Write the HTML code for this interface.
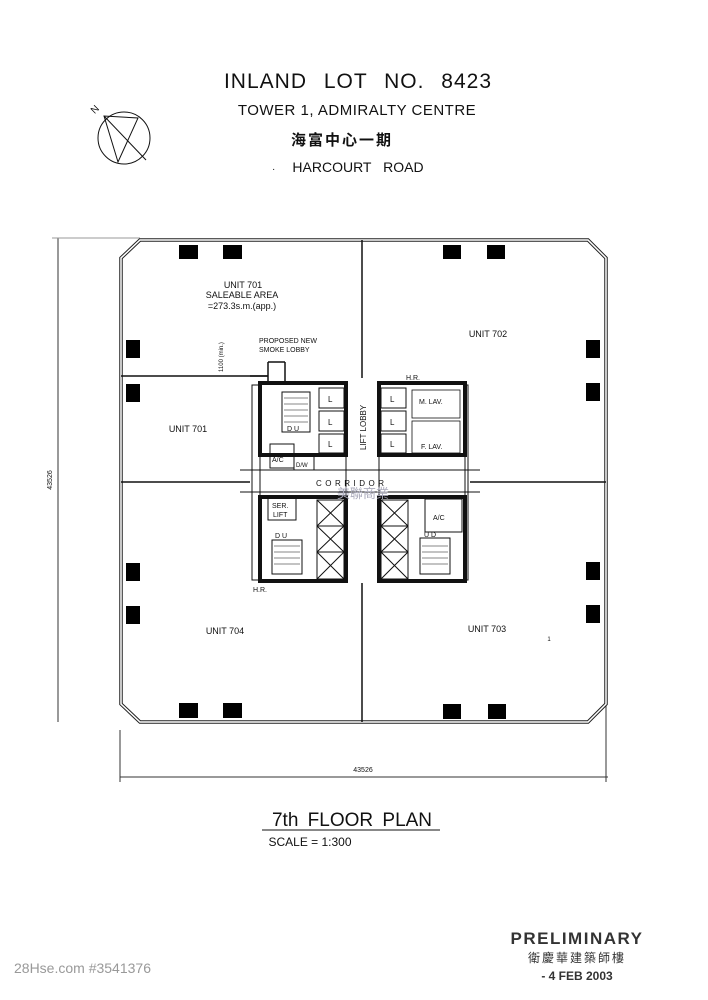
<!DOCTYPE html>
<html><head><meta charset="utf-8"><style>
html,body{margin:0;padding:0;background:#fff;}
svg{display:block}
text{font-family:"Liberation Sans","Noto Sans CJK TC",sans-serif;fill:#111}
</style></head><body>
<svg width="708" height="1000" viewBox="0 0 708 1000" xmlns="http://www.w3.org/2000/svg">
<text x="358" y="88" font-size="21" text-anchor="middle" letter-spacing="1" word-spacing="10">INLAND LOT NO. 8423</text>
<text x="357" y="115" font-size="15" text-anchor="middle" letter-spacing="0.5">TOWER 1, ADMIRALTY CENTRE</text>
<text x="342" y="145" font-size="15" font-weight="bold" text-anchor="middle" letter-spacing="2">海富中心一期</text>
<text x="358" y="172" font-size="14" text-anchor="middle" word-spacing="8">HARCOURT ROAD</text>
<text x="272" y="172" font-size="10">·</text>
<g stroke="#111" fill="none" stroke-width="1">
<circle cx="124" cy="138" r="26"/>
<line x1="104" y1="116" x2="146" y2="160"/>
<polygon points="104,116 118,162 138,118" />
</g>
<text x="92" y="112" font-size="10" transform="rotate(-45 96 110)">N</text>
<g stroke="#333" stroke-width="1">
<line x1="58" y1="238" x2="58" y2="722"/>
<line x1="52" y1="238" x2="140" y2="238" stroke="#999"/>
<line x1="120" y1="777" x2="608" y2="777"/>
<line x1="120" y1="730" x2="120" y2="782"/>
<line x1="606" y1="706" x2="606" y2="782"/>
</g>
<text x="52" y="480" font-size="7" transform="rotate(-90 52 480)" text-anchor="middle">43526</text>
<text x="363" y="772" font-size="7" text-anchor="middle">43526</text>
<g fill="none" stroke="#222">
<polygon points="140,240 588,240 606,258 606,704 588,722 140,722 121,704 121,258" stroke-width="3.5"/>
<polygon points="140,240 588,240 606,258 606,704 588,722 140,722 121,704 121,258" stroke-width="1.5" stroke="#fff"/>
</g>
<g stroke="#111" stroke-width="1.5">
<line x1="362" y1="240" x2="362" y2="378"/>
<line x1="362" y1="583" x2="362" y2="722"/>
<line x1="121" y1="482" x2="250" y2="482"/>
<line x1="470" y1="482" x2="606" y2="482"/>
<line x1="121" y1="376" x2="268" y2="376"/>
<line x1="268" y1="362" x2="268" y2="383"/>
<line x1="268" y1="362" x2="285" y2="362"/>
<line x1="285" y1="362" x2="285" y2="385"/>
</g>
<g fill="#000">
<rect x="179" y="245" width="19" height="14"/><rect x="223" y="245" width="19" height="14"/>
<rect x="443" y="245" width="18" height="14"/><rect x="487" y="245" width="18" height="14"/>
<rect x="126" y="340" width="14" height="18"/><rect x="126" y="384" width="14" height="18"/>
<rect x="126" y="563" width="14" height="18"/><rect x="126" y="606" width="14" height="18"/>
<rect x="586" y="340" width="14" height="18"/><rect x="586" y="383" width="14" height="18"/>
<rect x="586" y="562" width="14" height="18"/><rect x="586" y="605" width="14" height="18"/>
<rect x="179" y="703" width="19" height="15"/><rect x="223" y="703" width="19" height="15"/>
<rect x="443" y="704" width="18" height="15"/><rect x="488" y="704" width="18" height="15"/>
</g>
<g fill="none" stroke="#111">
<rect x="260" y="383" width="86" height="72" stroke-width="4"/>
<rect x="379" y="383" width="86" height="72" stroke-width="4"/>
<rect x="260" y="497" width="86" height="84" stroke-width="4"/>
<rect x="379" y="497" width="86" height="84" stroke-width="4"/>
<rect x="252" y="385" width="8" height="195" stroke-width="1"/>
<rect x="465" y="385" width="3" height="195" stroke-width="1"/>
<line x1="240" y1="470" x2="480" y2="470" stroke-width="1"/>
<line x1="240" y1="492" x2="480" y2="492" stroke-width="1"/>
<line x1="346" y1="383" x2="346" y2="581" stroke-width="1"/>
<line x1="379" y1="383" x2="379" y2="581" stroke-width="1"/>
<rect x="319" y="388" width="25" height="20"/><rect x="319" y="411" width="25" height="20"/><rect x="319" y="434" width="25" height="19"/>
<rect x="381" y="388" width="25" height="20"/><rect x="381" y="411" width="25" height="20"/><rect x="381" y="434" width="25" height="19"/>
<rect x="317" y="500" width="27" height="26"/><rect x="317" y="526" width="27" height="26"/><rect x="317" y="552" width="27" height="27"/>
<rect x="381" y="500" width="27" height="26"/><rect x="381" y="526" width="27" height="26"/><rect x="381" y="552" width="27" height="27"/>
<path d="M317 500 L344 526 M344 500 L317 526 M317 526 L344 552 M344 526 L317 552 M317 552 L344 579 M344 552 L317 579"/>
<path d="M381 500 L408 526 M408 500 L381 526 M381 526 L408 552 M408 526 L381 552 M381 552 L408 579 M408 552 L381 579"/>
<rect x="282" y="392" width="28" height="40"/>
<rect x="272" y="540" width="30" height="34"/>
<rect x="420" y="538" width="30" height="36"/>
<path d="M284 398 H308 M284 404 H308 M284 410 H308 M284 416 H308 M284 422 H308 M274 546 H300 M274 552 H300 M274 558 H300 M274 564 H300 M422 546 H448 M422 552 H448 M422 558 H448 M422 564 H448" stroke-width="0.6"/>
<rect x="270" y="444" width="24" height="24"/>
<rect x="294" y="456" width="20" height="14"/>
<rect x="268" y="498" width="28" height="22"/>
<rect x="425" y="499" width="37" height="33"/>
<rect x="412" y="390" width="48" height="28" stroke-width="0.8"/>
<rect x="412" y="421" width="48" height="32" stroke-width="0.8"/>
<path d="M250 376 H268" stroke-width="1.5"/>
</g>
<g font-size="8">
<text x="328" y="402">L</text><text x="328" y="425">L</text><text x="328" y="447">L</text>
<text x="390" y="402">L</text><text x="390" y="425">L</text><text x="390" y="447">L</text>
<text x="366" y="450" transform="rotate(-90 366 450)" font-size="8">LIFT LOBBY</text>
<text x="316" y="486" font-size="8" letter-spacing="3.5">CORRIDOR</text>
<text x="419" y="404" font-size="7">M. LAV.</text>
<text x="421" y="449" font-size="7">F. LAV.</text>
<text x="406" y="380" font-size="7">H.R.</text>
<text x="253" y="592" font-size="7">H.R.</text>
<text x="272" y="462" font-size="7">A/C</text>
<text x="296" y="467" font-size="6">D/W</text>
<text x="272" y="508" font-size="7">SER.</text>
<text x="273" y="517" font-size="7">LIFT</text>
<text x="433" y="520" font-size="7">A/C</text>
<text x="287" y="431" font-size="7">D  U</text>
<text x="275" y="538" font-size="7">D  U</text>
<text x="424" y="537" font-size="7">U  D</text>
<text x="259" y="343" font-size="7">PROPOSED NEW</text>
<text x="259" y="352" font-size="7">SMOKE LOBBY</text>
<text x="223" y="372" font-size="6" transform="rotate(-90 223 372)">1100 (min.)</text>
</g>
<g font-size="9" text-anchor="middle">
<text x="243" y="288">UNIT 701</text>
<text x="242" y="298">SALEABLE AREA</text>
<text x="242" y="309">=273.3s.m.(app.)</text>
<text x="488" y="337">UNIT 702</text>
<text x="188" y="432">UNIT 701</text>
<text x="225" y="634">UNIT 704</text>
<text x="487" y="632">UNIT 703</text>
<text x="549" y="641" font-size="6">1</text>
</g>
<text x="363" y="498" font-size="13" text-anchor="middle" style="fill:#aab">美聯商業</text>
<text x="352" y="826" font-size="19" text-anchor="middle" word-spacing="4">7th FLOOR PLAN</text>
<line x1="262" y1="830" x2="440" y2="830" stroke="#111" stroke-width="1"/>
<text x="310" y="846" font-size="12" text-anchor="middle">SCALE = 1:300</text>
<text x="577" y="944" font-size="17" font-weight="bold" text-anchor="middle" letter-spacing="1.5" style="fill:#333">PRELIMINARY</text>
<text x="577" y="962" font-size="12" text-anchor="middle" letter-spacing="2" style="fill:#333">衛慶華建築師樓</text>
<text x="577" y="980" font-size="12" font-weight="bold" text-anchor="middle" style="fill:#333">- 4 FEB 2003</text>
<text x="14" y="973" font-size="14" style="fill:#999">28Hse.com #3541376</text>
</svg>
</body></html>
